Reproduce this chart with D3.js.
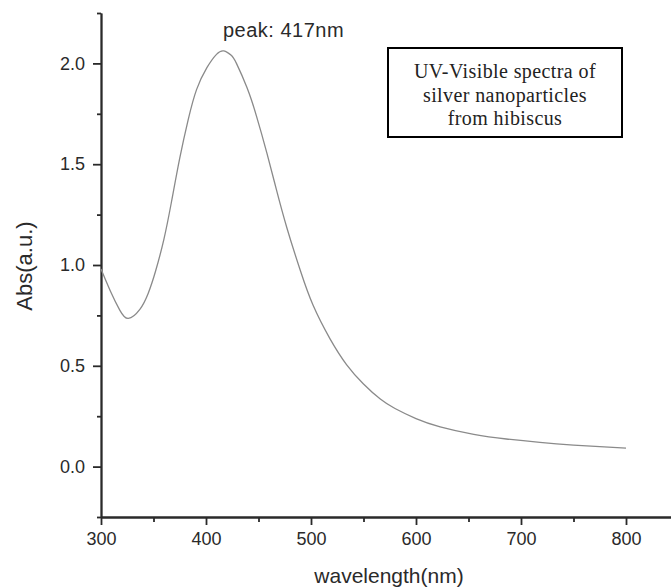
<!DOCTYPE html>
<html>
<head>
<meta charset="utf-8">
<script src="https://cdn.jsdelivr.net/npm/d3@7"></script>
<style>
  html, body { margin: 0; padding: 0; background: #fff; }
  svg { display: block; }
  .axis text { font-family: "Liberation Sans", Arial, sans-serif; font-size: 18px; fill: #2a2a2a; }
  .axis path, .axis line { stroke: #2a2a2a; stroke-width: 1.8px; }
</style>
</head>
<body>
<svg id="chart" width="671" height="588"></svg>
<script>
// spectrum
const wavelength = [300, 309, 318, 326, 337, 345, 352, 360, 367, 375, 383, 391, 401, 410, 417, 424,
    429, 439, 448, 458, 467, 477, 490, 502, 518, 534, 550, 566, 580, 600, 623, 655, 686, 718, 750, 800];
const absorbance = [0.98, 0.87, 0.775, 0.735, 0.78, 0.86, 0.97, 1.13, 1.31, 1.53, 1.72, 1.87, 1.98, 2.045, 2.062, 2.04,
    2.00, 1.88, 1.74, 1.555, 1.375, 1.185, 0.97, 0.80, 0.635, 0.505, 0.41, 0.335, 0.288, 0.238, 0.197, 0.16, 0.137, 0.12, 0.107, 0.092];

const xMajor = [300, 400, 500, 600, 700, 800];
const xMinor = [350, 450, 550, 650, 750, 850];
const yMajor = [0, 0.5, 1.0, 1.5, 2.0];
const yMinor = [-0.25, 0.25, 0.75, 1.25, 1.75, 2.25];

const boxLines = ["UV-Visible spectra of", "silver nanoparticles", "from hibiscus"];
const peakLabel = "peak: 417nm";

const svg = d3.select("#chart");

const x = d3.scaleLinear().domain([300, 850]).range([101, 678.5]);
const y = d3.scaleLinear().domain([-0.25, 2.25]).range([517, 13]);

const data = wavelength.map((w, i) => ({ w: w, a: absorbance[i] }));

// minor ticks first, then majors with labels
svg.append("g")
    .attr("class", "axis")
    .attr("transform", "translate(0,517)")
    .call(d3.axisBottom(x).tickValues(xMinor).tickSize(5).tickSizeOuter(0).tickFormat(""));

svg.append("g")
    .attr("class", "axis")
    .attr("transform", "translate(0,517)")
    .call(d3.axisBottom(x).tickValues(xMajor).tickSize(8).tickSizeOuter(0).tickPadding(6).tickFormat(d3.format("d")))
    .call(g => g.selectAll("text").attr("dy", "0.75em"));

svg.append("g")
    .attr("class", "axis")
    .attr("transform", "translate(101,0)")
    .call(d3.axisLeft(y).tickValues(yMinor).tickSize(4).tickSizeOuter(0).tickFormat(""));

svg.append("g")
    .attr("class", "axis")
    .attr("transform", "translate(101,0)")
    .call(d3.axisLeft(y).tickValues(yMajor).tickSize(8).tickSizeOuter(0).tickPadding(8).tickFormat(d3.format(".1f")));

const line = d3.line()
    .x(d => x(d.w))
    .y(d => y(d.a))
    .curve(d3.curveNatural);

svg.append("path")
    .datum(data)
    .attr("fill", "none")
    .attr("stroke", "#8a8a8a")
    .attr("stroke-width", 1.3)
    .attr("d", line);

// axis titles
svg.append("text")
    .attr("x", 389)
    .attr("y", 583)
    .attr("text-anchor", "middle")
    .style("font-family", "Liberation Sans, Arial, sans-serif")
    .style("font-size", "21px")
    .style("fill", "#2a2a2a")
    .text("wavelength(nm)");

svg.append("text")
    .attr("transform", "translate(32,266) rotate(-90)")
    .attr("text-anchor", "middle")
    .style("font-family", "Liberation Sans, Arial, sans-serif")
    .style("font-size", "22px")
    .style("fill", "#2a2a2a")
    .text("Abs(a.u.)");

svg.append("text")
    .attr("x", 223)
    .attr("y", 37)
    .style("font-family", "Liberation Sans, Arial, sans-serif")
    .style("font-size", "20px")
    .style("letter-spacing", "0.5px")
    .style("fill", "#2a2a2a")
    .text(peakLabel);

// caption box
const box = svg.append("g");
box.append("rect")
    .attr("x", 388)
    .attr("y", 48)
    .attr("width", 234)
    .attr("height", 89)
    .attr("fill", "#fff")
    .attr("stroke", "#000")
    .attr("stroke-width", 2);

box.selectAll("text.cap")
    .data(boxLines)
    .join("text")
    .attr("class", "cap")
    .attr("x", 505)
    .attr("y", (d, i) => 78 + i * 23.5)
    .attr("text-anchor", "middle")
    .style("font-family", "Liberation Serif, Times New Roman, serif")
    .style("font-size", "20px")
    .style("letter-spacing", "0.4px")
    .style("fill", "#222")
    .text(d => d);
</script>
</body>
</html>
